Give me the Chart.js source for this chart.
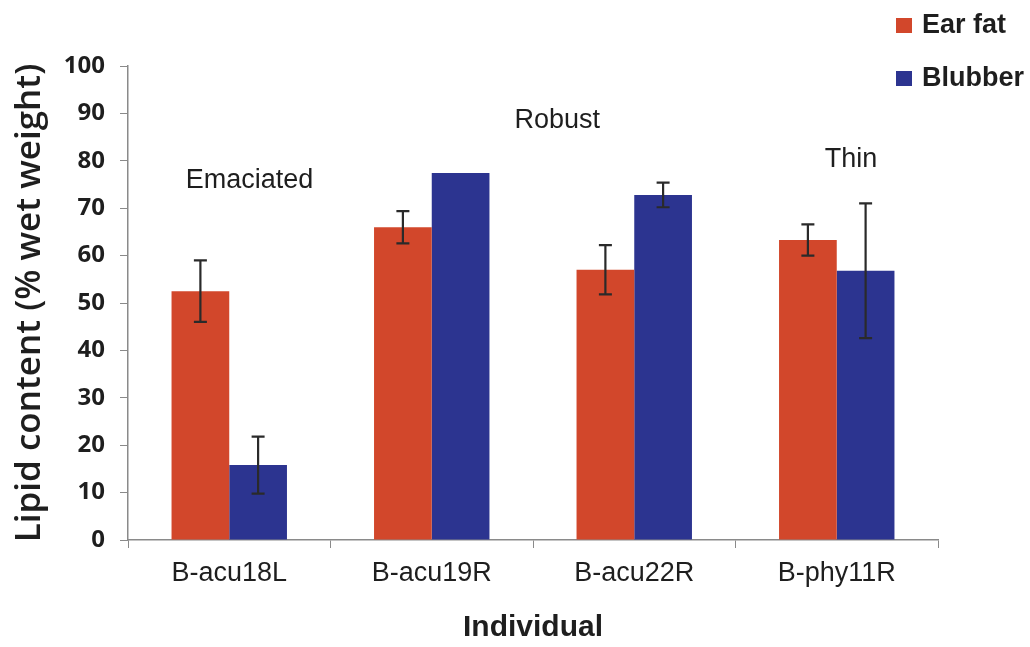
<!DOCTYPE html>
<html>
<head>
<meta charset="utf-8">
<script src="https://cdn.jsdelivr.net/npm/chart.js@4/dist/chart.umd.min.js"></script>
<style>
  html, body { margin: 0; padding: 0; background: #ffffff; }
  #wrap { width: 1030px; height: 647px; position: relative; }
</style>
</head>
<body>
<div id="wrap"><canvas id="c" width="1030" height="647"></canvas></div>
<script>
// Lipid content by individual and tissue
const categories = ['B-acu18L', 'B-acu19R', 'B-acu22R', 'B-phy11R'];
const earFat = [52.5, 66.0, 57.0, 63.3];
const earFatErr = [6.5, 3.4, 5.2, 3.3];
const blubber = [15.8, 77.4, 72.8, 56.8];
const blubberErr = [6.0, null, 2.6, 14.2];
const yTicks = [0, 10, 20, 30, 40, 50, 60, 70, 80, 90, 100];
const conditionLabels = ['Emaciated', 'Robust', 'Thin'];

const RED = '#d2472b';
const BLUE = '#2c3490';

// where the body-condition notes sit, in category / value units
const notePlacement = [
  { x: 0.10, y: 75.9 },
  { x: 1.62, y: 88.4 },
  { x: 3.07, y: 80.2 }
];

const errorBars = {
  id: 'errorBars',
  afterDatasetsDraw(chart) {
    const ctx = chart.ctx;
    const y = chart.scales.y;
    const errs = [earFatErr, blubberErr];
    ctx.save();
    ctx.strokeStyle = '#2a2a2a';
    ctx.lineWidth = 2.2;
    chart.data.datasets.forEach((ds, di) => {
      const meta = chart.getDatasetMeta(di);
      meta.data.forEach((bar, i) => {
        const e = errs[di][i];
        if (e == null) return;
        const v = ds.data[i];
        const yt = y.getPixelForValue(v + e);
        const yb = y.getPixelForValue(v - e);
        const cx = bar.x;
        ctx.beginPath();
        ctx.moveTo(cx, yt); ctx.lineTo(cx, yb);
        ctx.moveTo(cx - 6.5, yt); ctx.lineTo(cx + 6.5, yt);
        ctx.moveTo(cx - 6.5, yb); ctx.lineTo(cx + 6.5, yb);
        ctx.stroke();
      });
    });
    ctx.restore();
  }
};

const notesAndLegend = {
  id: 'notesAndLegend',
  afterDraw(chart) {
    const ctx = chart.ctx;
    const xs = chart.scales.x, ys = chart.scales.y;
    ctx.save();
    ctx.fillStyle = '#1e1e1e';
    ctx.font = '27px "Liberation Sans", Arial, sans-serif';
    ctx.textAlign = 'center';
    ctx.textBaseline = 'middle';
    conditionLabels.forEach((t, i) => {
      const p = notePlacement[i];
      const px = xs.getPixelForValue(0) + p.x * (xs.getPixelForValue(1) - xs.getPixelForValue(0));
      ctx.fillText(t, px, ys.getPixelForValue(p.y));
    });
    // legend
    ctx.textAlign = 'left';
    ctx.font = 'bold 27px "Liberation Sans", Arial, sans-serif';
    chart.data.datasets.forEach((ds, i) => {
      const cy = 25 + i * 53;
      ctx.fillStyle = ds.backgroundColor;
      ctx.fillRect(896, cy - 7, 16, 15);
      ctx.fillStyle = '#1e1e1e';
      ctx.fillText(ds.label, 922, cy + 1);
    });
    ctx.restore();
  }
};

new Chart(document.getElementById('c'), {
  type: 'bar',
  data: {
    labels: categories,
    datasets: [
      { label: 'Ear fat', data: earFat, backgroundColor: RED, categoryPercentage: 0.57, barPercentage: 1.0 },
      { label: 'Blubber', data: blubber, backgroundColor: BLUE, categoryPercentage: 0.57, barPercentage: 1.0 }
    ]
  },
  options: {
    responsive: false,
    animation: false,
    layout: { padding: { top: 66, right: 92, left: 0, bottom: 0 } },
    plugins: { legend: { display: false }, tooltip: { enabled: false } },
    scales: {
      x: {
        grid: { display: true, drawOnChartArea: false, drawTicks: true, tickLength: 8, color: '#8a8a8a', offset: true },
        border: { display: true, color: '#8a8a8a', width: 1.5 },
        ticks: { color: '#1e1e1e', padding: 9, font: { family: '"Liberation Sans", Arial, sans-serif', size: 27 }, maxRotation: 0 },
        title: { display: true, text: 'Individual', color: '#1e1e1e', padding: { top: 0, bottom: 1 },
                 font: { family: '"Liberation Sans", Arial, sans-serif', size: 30, weight: 'bold' } },
        afterFit(s) { s.height = 107; }
      },
      y: {
        min: 0, max: 100,
        afterBuildTicks(s) { s.ticks = yTicks.map(v => ({ value: v })); },
        grid: { display: true, drawOnChartArea: false, drawTicks: true, tickLength: 8, color: '#8a8a8a' },
        border: { display: true, color: '#8a8a8a', width: 1.5 },
        ticks: { color: '#1e1e1e', padding: 15, font: { family: '"Open Sans", sans-serif', size: 24, weight: '700' } },
        title: { display: true, text: 'Lipid content (% wet weight)', color: '#1e1e1e', padding: { top: 9, bottom: 0 },
                 font: { family: '"Open Sans", sans-serif', size: 35, weight: '600' } },
        afterFit(s) { s.width = 128; }
      }
    }
  },
  plugins: [errorBars, notesAndLegend]
});
</script>
</body>
</html>
